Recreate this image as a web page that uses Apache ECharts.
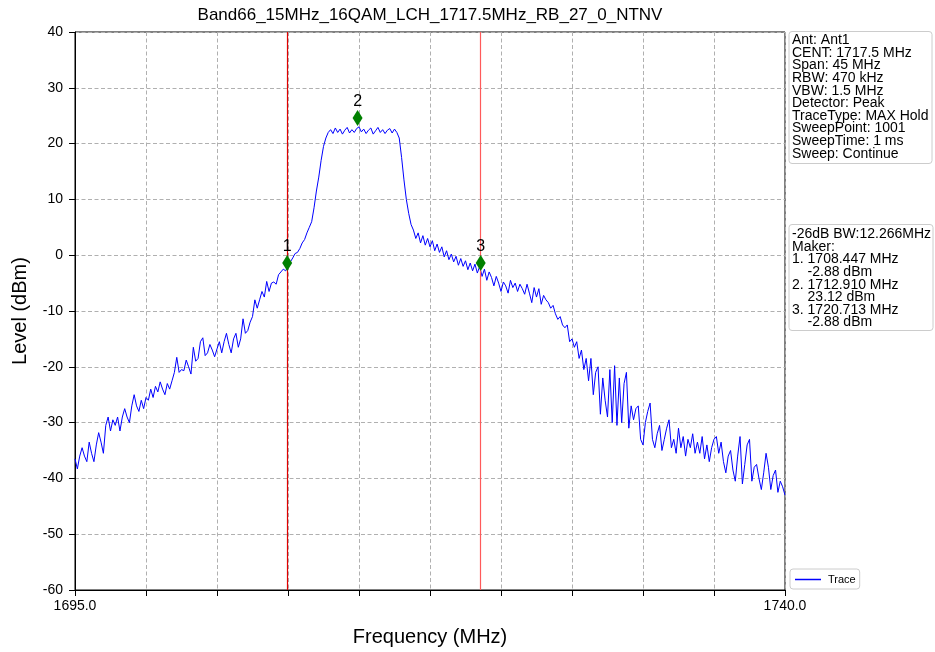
<!DOCTYPE html>
<html>
<head>
<meta charset="utf-8">
<style type="text/css">
    body { margin: 0; background: #fff; }
    #chart { width: 935px; height: 652px; }
</style>
</head>
<body>
<div id="chart"></div>
<script src="https://cdn.jsdelivr.net/npm/echarts@6/dist/echarts.min.js"></script>
<script>

// sweep: 1695 .. 1740 MHz, every 0.15 MHz
const traceStart = 1695;
const traceStep = 0.15;
const traceLevel = [
    -36.5, -38.3, -36, -34.5, -36, -37, -33.5, -35.5, -37, -34,
    -31.8, -33.5, -35.5, -30.5, -29, -31.5, -29.5, -30.5, -29, -31.5,
    -29, -27.5, -29, -30, -27, -25, -27, -28, -26, -27.5,
    -25.5, -26, -24, -25.5, -23.5, -24.5, -22.7, -24, -25, -23,
    -24, -22.5, -21, -18.3, -21, -20.5, -20.7, -18.8, -20, -21.3,
    -16.5, -19, -18.5, -15.5, -14.8, -18, -17.5, -16, -17, -18.2,
    -16.8, -15.5, -17.5, -15.5, -14, -16, -17.5, -15, -14, -16.5,
    -15, -11.4, -14, -13.5, -12, -11, -8, -9.5, -8, -6.5,
    -7.5, -4.7, -6.5, -5, -4.8, -5.2, -3.5, -3, -2.5, -2.8,
    -2, -1.2, -0.5, 0.3, 0.5, 1.2, 2.2, 2.8, 4, 5,
    6, 8.5, 11.5, 14, 17, 19.5, 21, 22, 22.5, 21.8,
    22.8, 22, 22.6, 21.7, 22.4, 22.9, 21.9, 22.5, 22, 22.7,
    23, 22.1, 22.6, 21.8, 22.4, 22.8, 21.7, 22.3, 22.9, 22,
    22.5, 21.8, 22.4, 22.7, 21.9, 22.6, 22, 21, 17.5, 13.5,
    10, 7.5, 5.5, 4.5, 3, 4, 2.2, 3.5, 1.8, 3,
    1.5, 2.6, 0.8, 2, 0.5, 1.5, -0.3, 0.8, -0.8, 0.2,
    -1.2, -0.2, -1.8, -0.6, -2, -1, -2.6, -1.4, -2.8, -1.6,
    -3.2, -2, -3.8, -2.5, -4.5, -3, -4, -5.5, -3.8, -5,
    -6.5, -4.8, -5.5, -6.8, -4.5, -5.8, -5, -6.5, -5.2, -6,
    -7, -5.2, -6.8, -8.5, -5.8, -7.5, -6, -8.8, -7.2, -8,
    -8.5, -9.5, -9, -10.5, -11.5, -11, -12.5, -13, -12.5, -15.5,
    -15, -16.5, -15.5, -18.5, -17, -20.5, -18.5, -22.5, -18.5, -25,
    -21, -20, -28.5, -22, -26, -29, -20.5, -30, -19.8, -30.5,
    -22, -30, -23, -21, -31, -27, -29.5, -27.5, -27, -33,
    -34, -30, -28, -26.5, -33, -34.5, -32, -30.5, -35, -33,
    -31, -29.5, -34.5, -33, -35.5, -31, -34.5, -32.5, -36, -33,
    -34.5, -32, -35.5, -33.5, -35.5, -32.5, -36.5, -34, -37, -34.5,
    -33, -32.5, -35.5, -33.5, -37, -39, -36, -35, -38.5, -40.5,
    -36, -32.5, -41, -37.5, -34, -33, -40.5, -38, -37.5, -40,
    -42, -39, -35.5, -38, -42, -39.5, -38.5, -42.5, -40.5, -41.5, -43
];

// markers (diamonds drawn where they sit in the picture)
const markerFreq = [1708.447, 1712.910, 1720.713];
const markerPlotLevel = [-1.4, 24.6, -1.4];
const markerLineColor = ['#e00000', '#ff5a5a'];
const markerLineFreq = [1708.447, 1720.713];

const xMin = 1695, xMax = 1740;
const xDivs = 10;
const yTicks = [-60, -50, -40, -30, -20, -10, 0, 10, 20, 30, 40];

const infoLines = [
    'Ant: Ant1',
    'CENT: 1717.5 MHz',
    'Span: 45 MHz',
    'RBW: 470 kHz',
    'VBW: 1.5 MHz',
    'Detector: Peak',
    'TraceType: MAX Hold',
    'SweepPoint: 1001',
    'SweepTime: 1 ms',
    'Sweep: Continue'
];
const markerLines = [
    '-26dB BW:12.266MHz',
    'Maker:',
    '1. 1708.447 MHz',
    '    -2.88 dBm',
    '2. 1712.910 MHz',
    '    23.12 dBm',
    '3. 1720.713 MHz',
    '    -2.88 dBm'
];

const FONT = '"Liberation Sans", Arial, sans-serif';

let traceData = traceLevel.map((v, i) => [+(traceStart + i * traceStep).toFixed(3), v]);
let markerData = markerFreq.map((f, i) => [f, markerPlotLevel[i]]);

function textBox(x, y, w, h, lines, ty) {
    return {
        type: 'group',
        children: [
            {
                type: 'rect',
                shape: {x: x, y: y, width: w, height: h, r: 3},
                style: {fill: '#fff', stroke: '#cccccc', lineWidth: 1}
            },
            {
                type: 'text',
                style: {
                    x: x + 3,
                    y: ty,
                    text: lines.join('\n'),
                    fill: '#000',
                    fontSize: 14,
                    fontFamily: FONT,
                    lineHeight: 12.6,
                    verticalAlign: 'top'
                }
            }
        ]
    };
}

let chart = echarts.init(document.getElementById('chart'));

let option = {
    animation: false,
    backgroundColor: '#fff',
    textStyle: {fontFamily: FONT},
    title: {
        text: 'Band66_15MHz_16QAM_LCH_1717.5MHz_RB_27_0_NTNV',
        left: 430,
        top: 7,
        padding: 0,
        textAlign: 'center',
        textStyle: {fontSize: 17, fontWeight: 'normal', color: '#000', fontFamily: FONT}
    },
    grid: {
        left: 75, right: 150, top: 32, bottom: 62,
        show: true, borderColor: '#000', borderWidth: 1,
        outerBoundsMode: 'none'
    },
    legend: {
        data: [{name: 'Trace'}],
        left: 790, top: 569,
        padding: [5, 4, 4, 5],
        icon: 'rect',
        itemWidth: 26, itemHeight: 1.5,
        itemGap: 5,
        borderColor: '#cccccc', borderWidth: 1, borderRadius: 3,
        backgroundColor: '#fff',
        textStyle: {fontSize: 11, color: '#000', fontFamily: FONT, padding: [0, 0, 0, 2]}
    },
    xAxis: [
        {
            type: 'value',
            min: xMin, max: xMax,
            position: 'bottom',
            name: 'Frequency (MHz)',
            nameLocation: 'middle',
            nameGap: 37,
            nameTextStyle: {fontSize: 20, color: '#000', fontFamily: FONT},
            axisLine: {show: true, onZero: false, lineStyle: {color: '#000', width: 1}},
            axisTick: {show: false},
            splitLine: {show: false},
            axisLabel: {
                margin: 9, fontSize: 14, color: '#000', fontFamily: FONT,
                showMinLabel: true, showMaxLabel: true,
                formatter: v => (v === xMin || v === xMax) ? v.toFixed(1) : ''
            }
        },
        {
            // division axis: 10 divisions across the span, ticks and grid only
            type: 'value',
            min: 0, max: xDivs, interval: 1,
            position: 'bottom',
            axisLine: {show: false, onZero: false},
            axisTick: {show: true, inside: false, length: 6, lineStyle: {color: '#000', width: 1}},
            axisLabel: {show: false},
            splitLine: {show: true, lineStyle: {color: '#b0b0b0', type: [4, 2.5], width: 1}}
        }
    ],
    yAxis: {
        type: 'value',
        min: yTicks[0], max: yTicks[yTicks.length - 1], interval: 10,
        name: 'Level (dBm)',
        nameLocation: 'middle',
        nameGap: 45,
        nameTextStyle: {fontSize: 20, color: '#000', fontFamily: FONT},
        axisLine: {show: true, onZero: false, lineStyle: {color: '#000', width: 1}},
        axisTick: {show: true, length: 6, lineStyle: {color: '#000'}},
        axisLabel: {margin: 12, fontSize: 14, color: '#000', fontFamily: FONT},
        splitLine: {show: true, lineStyle: {color: '#b0b0b0', type: [4, 2.5], width: 1}}
    },
    graphic: [
        textBox(789, 31.5, 143, 132, infoLines, 34),
        textBox(789, 224.5, 144, 106, markerLines, 228)
    ],
    series: [
        {
            name: 'Trace',
            type: 'line',
            xAxisIndex: 0,
            data: traceData,
            showSymbol: false,
            symbol: 'none',
            lineStyle: {color: '#0000ff', width: 1},
            itemStyle: {color: '#0000ff'},
            z: 3,
            markLine: {
                silent: true,
                symbol: 'none',
                label: {show: false},
                animation: false,
                data: markerLineFreq.map((f, i) => ({
                    xAxis: f,
                    lineStyle: {color: markerLineColor[i], width: 1.2, type: 'solid'}
                }))
            }
        },
        {
            name: 'Marker',
            type: 'scatter',
            xAxisIndex: 0,
            data: markerData,
            symbol: 'diamond',
            symbolSize: [10, 16],
            itemStyle: {color: '#008000', opacity: 1},
            z: 5,
            label: {
                show: true,
                position: 'top',
                distance: 0,
                fontSize: 16,
                color: '#000',
                fontFamily: FONT,
                formatter: p => String(p.dataIndex + 1)
            }
        }
    ]
};

chart.setOption(option);

</script>
</body>
</html>
